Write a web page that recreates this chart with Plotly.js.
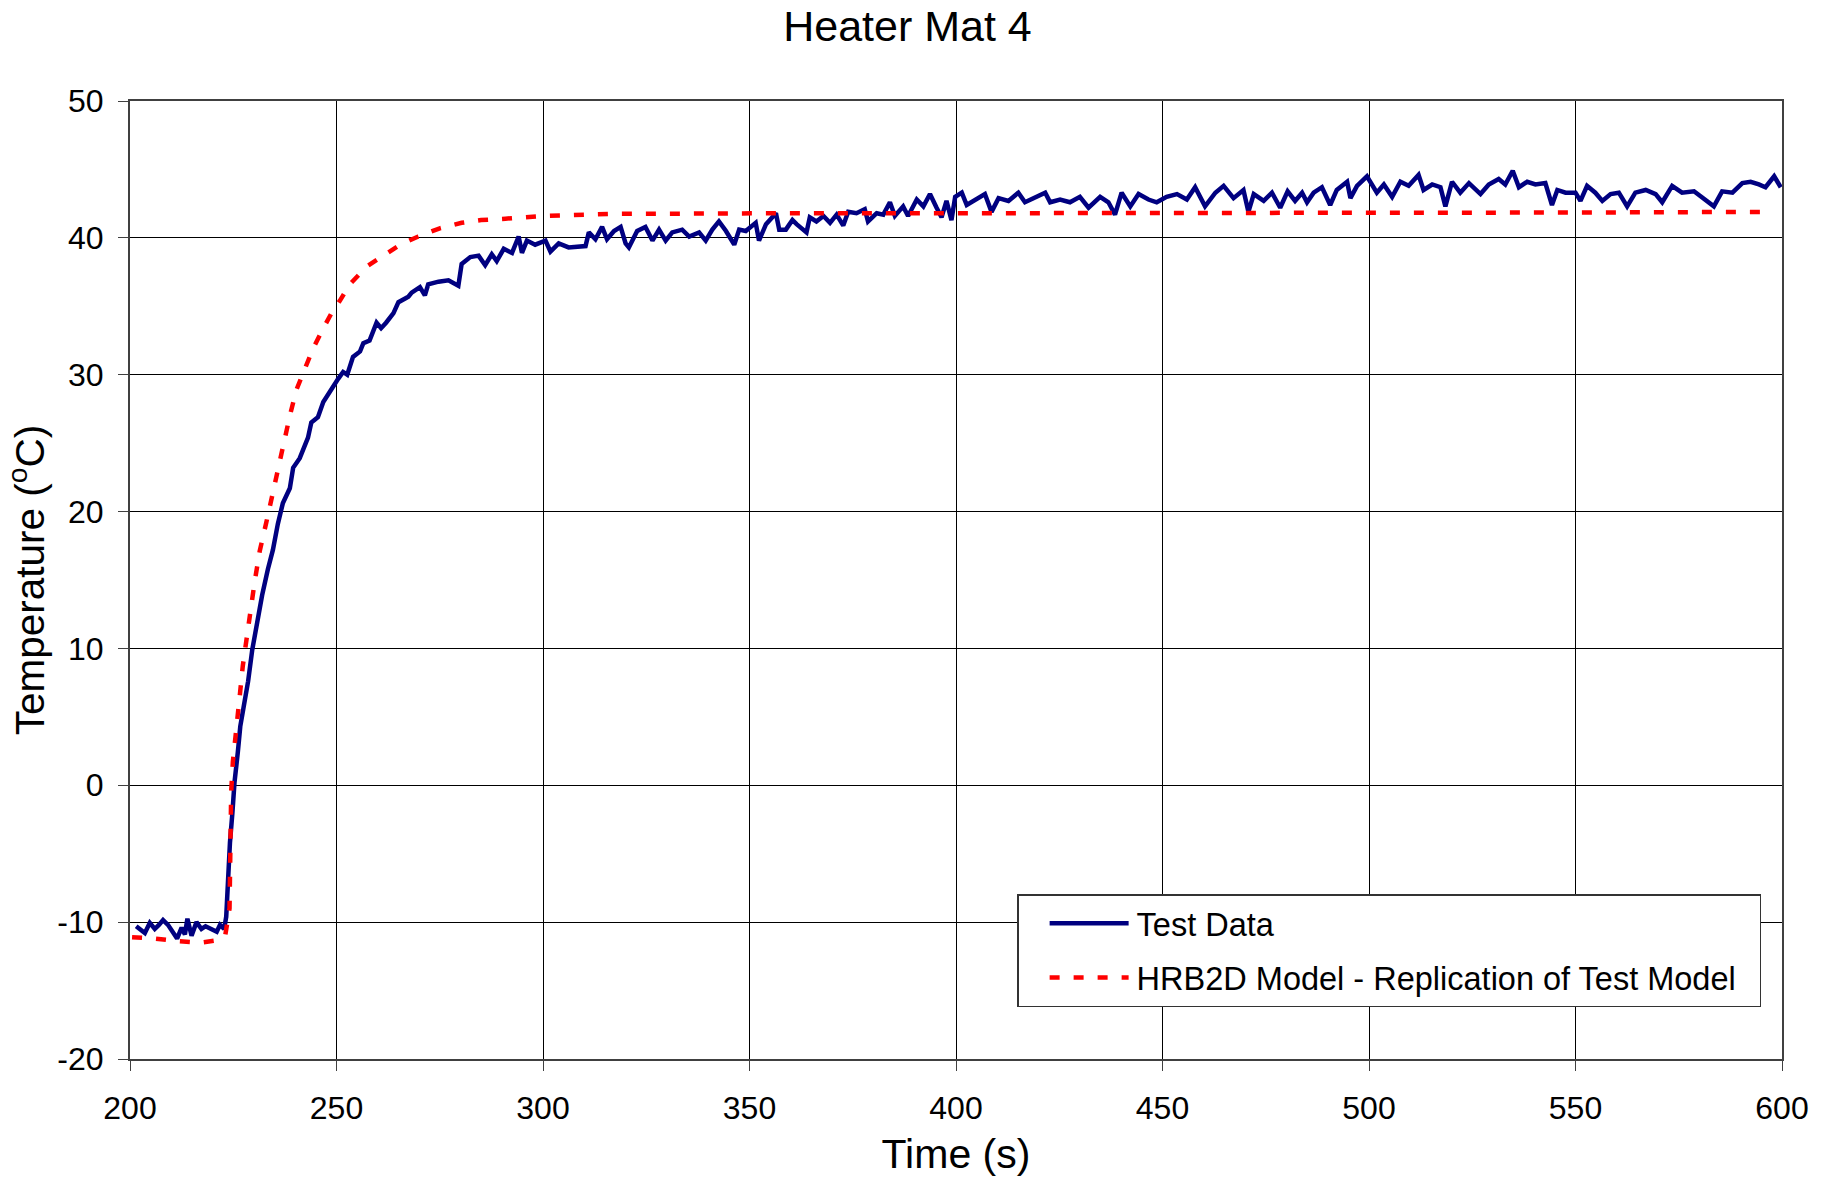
<!DOCTYPE html>
<html>
<head>
<meta charset="utf-8">
<script src="https://cdn.plot.ly/plotly-3.0.1.min.js"></script>
<style>
  html, body { margin: 0; padding: 0; background: #ffffff; }
  #chart { width: 1826px; height: 1177px; }
</style>
</head>
<body>
<div id="chart"></div>
<script>
// ---------- data ----------
const testTime = [
  201.5, 202.4, 203.6, 204.8, 206, 207, 208, 209.2, 210.3, 211.4,
  212.5, 213.3, 213.9, 214.9, 216.1, 217.3, 218.3, 219.4, 221, 221.8,
  222.8, 223.3, 223.6, 223.8, 224.2, 224.8, 225.3, 226.1, 226.7, 227.5,
  228.6, 229.6, 230.6, 232, 233.4, 234.6, 235.8, 237, 238.7, 239.5,
  241.1, 243.1, 243.9, 245.5, 246.8, 248.4, 250.4, 251.6, 252.6, 254,
  255.7, 256.5, 258, 259.7, 260.8, 262, 263.8, 265, 267.4, 268.2,
  270.2, 271.4, 272.2, 274.7, 277.1, 279.5, 280.3, 282.4, 284.4, 286,
  287.6, 288.8, 290.5, 292.5, 294.1, 294.9, 296.1, 298.1, 300.6, 301.8,
  303.8, 306.2, 308.7, 310.3, 311.1, 312.7, 314.3, 315.5, 317.2, 318.8,
  320, 320.8, 322.8, 324.8, 326.5, 328.1, 329.7, 331.3, 333.7, 335.4,
  337.8, 339.4, 341, 342.6, 344.3, 346.3, 347.5, 349.1, 351.5, 352.3,
  354, 356.4, 357.2, 358.8, 360.4, 361.4, 363.8, 364.6, 366.2, 367.9,
  369.5, 371.1, 372.7, 373.9, 375.9, 377.9, 378.7, 380.8, 382.4, 384,
  385.2, 387.2, 388.4, 390.5, 392.1, 393.7, 395.3, 396.5, 397.7, 398.9,
  399.8, 401.4, 402.6, 405, 407, 408.6, 410.3, 412.7, 415.1, 416.7,
  419.1, 421.6, 422.8, 425.2, 427.6, 430, 432.1, 434.9, 436.9, 438.5,
  440.1, 442.2, 444.2, 446.6, 448.6, 451, 453.5, 455.9, 457.9, 460.3,
  462.8, 464.8, 467.2, 469.6, 470.8, 472.1, 474.5, 476.5, 478.5, 480.3,
  482.1, 483.8, 485, 486.6, 488.6, 490.6, 492.2, 494.7, 495.5, 497.1,
  499.5, 501.9, 503.6, 505.6, 507.6, 509.6, 512, 513.2, 515.3, 517.3,
  518.5, 520.1, 522.1, 524.2, 527, 529, 531.4, 533, 534.8, 536.3,
  538.3, 540.3, 542.7, 544.3, 545.6, 547.6, 550, 551.2, 552.8, 554.8,
  556.5, 558.5, 560.5, 562.5, 564.5, 567, 569.4, 571, 573.4, 575.8,
  578.7, 581.1, 583.5, 585.5, 588, 590.4, 592.4, 594.4, 596, 598.1,
  599.7
];
const testTemp = [
  -10.3, -10.5, -10.8, -10.05, -10.5, -10.2, -9.85, -10.2, -10.7, -11.2,
  -10.4, -10.9, -9.75, -11.0, -10.0, -10.5, -10.3, -10.5, -10.7, -10.2,
  -10.5, -9.6, -7.6, -5.4, -4.2, -2.0, 0.2, 2.4, 4.3, 5.7,
  7.6, 9.9, 11.7, 13.9, 15.8, 17.2, 19.1, 20.6, 21.7, 23.2,
  23.9, 25.4, 26.5, 26.9, 28.0, 28.8, 29.7, 30.2, 30.0, 31.3,
  31.7, 32.3, 32.5, 33.8, 33.4, 33.8, 34.5, 35.3, 35.7, 36.0,
  36.4, 35.8, 36.6, 36.8, 36.9, 36.5, 38.1, 38.6, 38.7, 38.0,
  38.8, 38.3, 39.2, 38.9, 40.1, 38.9, 39.8, 39.5, 39.8, 39.0,
  39.6, 39.3, 39.4, 39.4, 40.4, 39.9, 40.8, 39.9, 40.5, 40.8,
  39.6, 39.3, 40.5, 40.8, 39.8, 40.6, 39.8, 40.4, 40.6, 40.1,
  40.4, 39.8, 40.6, 41.2, 40.5, 39.5, 40.6, 40.5, 41.1, 39.8,
  41.0, 41.8, 40.6, 40.6, 41.3, 41.0, 40.4, 41.5, 41.2, 41.6,
  41.1, 41.7, 40.9, 41.9, 41.8, 42.1, 41.2, 41.8, 41.7, 42.6,
  41.6, 42.3, 41.6, 42.8, 42.3, 43.2, 42.2, 41.5, 42.7, 41.3,
  43.0, 43.3, 42.4, 42.8, 43.2, 41.9, 42.9, 42.7, 43.3, 42.6,
  42.9, 43.3, 42.6, 42.8, 42.6, 43.0, 42.2, 43.0, 42.6, 41.7,
  43.3, 42.3, 43.2, 42.8, 42.6, 43.0, 43.2, 42.8, 43.7, 42.3,
  43.3, 43.8, 42.9, 43.5, 41.9, 43.2, 42.7, 43.3, 42.2, 43.4,
  42.7, 43.3, 42.6, 43.3, 43.7, 42.4, 43.5, 44.1, 42.9, 43.8,
  44.5, 43.3, 43.9, 43.0, 44.1, 43.8, 44.6, 43.5, 43.9, 43.7,
  42.3, 44.1, 43.3, 44.0, 43.2, 43.9, 44.3, 43.9, 44.9, 43.7,
  44.1, 43.9, 44.0, 42.4, 43.5, 43.3, 43.3, 42.7, 43.8, 43.3,
  42.7, 43.2, 43.3, 42.3, 43.3, 43.5, 43.2, 42.6, 43.8, 43.3,
  43.4, 42.9, 42.3, 43.4, 43.3, 44.0, 44.1, 43.9, 43.7, 44.5,
  43.7
];

const modelTime = [
  200.5, 206, 212, 217, 221.7, 223.1, 224.1, 224.3, 224.5, 224.9,
  225.6, 226.2, 226.7, 227.3, 228.2, 229.4, 230.2, 231.4, 233, 234.2,
  235.4, 237, 238.7, 240.3, 242.3, 244.3, 246.8, 248.8, 250.8, 253.2,
  257.3, 262.1, 265.4, 269.8, 275, 280.3, 285, 290.9, 299.8, 316.7,
  341, 360, 400, 450, 500, 550, 598
];
const modelTemp = [
  -11.1, -11.2, -11.4, -11.5, -11.3, -10.9, -9.0, -5.5, -0.5, 1.7,
  3.5, 5.5, 6.9, 8.7, 10.9, 13.2, 14.9, 17.1, 19.2, 20.9,
  22.6, 24.8, 27.0, 28.9, 30.4, 31.9, 33.4, 34.5, 35.4, 36.6,
  37.9, 38.9, 39.5, 40.1, 40.7, 41.1, 41.3, 41.4, 41.6, 41.75,
  41.8, 41.8, 41.8, 41.8, 41.8, 41.85, 41.9
];

const seriesNames = ["Test Data", "HRB2D Model - Replication of Test Model"];
const xTickVals = [200, 250, 300, 350, 400, 450, 500, 550, 600];
const xTickText = ["200", "250", "300", "350", "400", "450", "500", "550", "600"];
const yTickVals = [-20, -10, 0, 10, 20, 30, 40, 50];
const yTickText = ["-20", "-10", "0", "10", "20", "30", "40", "50"];

// ---------- chart ----------
const FONT = 'Arial, "Liberation Sans", sans-serif';

const traces = [
  {
    x: testTime, y: testTemp, name: seriesNames[0], type: "scatter", mode: "lines",
    line: { color: "#000080", width: 4.5 }, legendgroup: "a"
  },
  {
    x: modelTime, y: modelTemp, name: seriesNames[1] + "\u00a0\u00a0", type: "scatter", mode: "lines",
    line: { color: "#ff0000", width: 4.5, dash: "10px,14px" }, legendgroup: "b"
  }
];

const axisCommon = {
  showgrid: true, gridcolor: "#000000", gridwidth: 1,
  showline: true, linecolor: "#404040", linewidth: 2, mirror: true,
  ticks: "outside", ticklen: 10, tickcolor: "#404040", tickwidth: 1,
  zeroline: false, tickfont: { family: FONT, size: 32, color: "#000" },
  tickmode: "array"
};

const layout = {
  width: 1826, height: 1177,
  margin: { l: 130, r: 44, t: 101, b: 118, pad: 0 },
  paper_bgcolor: "#ffffff", plot_bgcolor: "#ffffff",
  font: { family: FONT, color: "#000" },
  title: {
    text: "Heater Mat 4", font: { family: FONT, size: 43, color: "#000" },
    x: 0.497, xanchor: "center", xref: "container", y: 0.978, yref: "container", yanchor: "middle"
  },
  xaxis: Object.assign({}, axisCommon, {
    range: [200, 600], tickvals: xTickVals, ticktext: xTickText,
    ticklabelstandoff: 10,
    title: { text: "Time (s)", font: { family: FONT, size: 41, color: "#000" }, standoff: 17 }
  }),
  yaxis: Object.assign({}, axisCommon, {
    range: [-20, 50], tickvals: yTickVals, ticktext: yTickText,
    ticklabelstandoff: 8,
    title: { text: "Temperature (<sup>o</sup>C)", font: { family: FONT, size: 40.5, color: "#000" }, standoff: 0 }
  }),
  showlegend: true,
  legend: {
    x: 0.537, y: 0.1722, xanchor: "left", yanchor: "top",
    bgcolor: "#ffffff", bordercolor: "#333333", borderwidth: 1.5,
    font: { family: FONT, size: 32.5, color: "#000" },
    itemwidth: 108, tracegroupgap: 9, traceorder: "grouped"
  }
};

Plotly.newPlot("chart", traces, layout, { displayModeBar: false, staticPlot: true }).then(function (gd) {
  // lengthen the legend line samples to match the reference style
  document.querySelectorAll(".legend .legendlines path").forEach(function (p) {
    p.setAttribute("d", "M31,0h79");
  });
});
</script>
</body>
</html>
